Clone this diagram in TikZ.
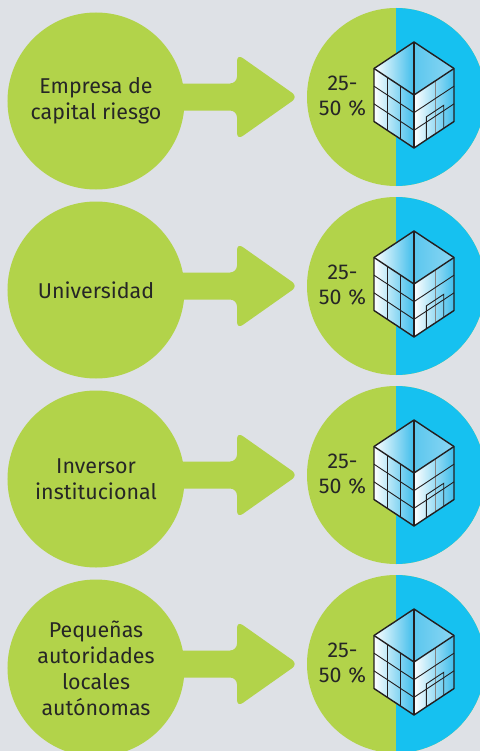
\documentclass[tikz,border=0pt]{standalone}
\usepackage{fontspec}
\setmainfont{Fira Sans}
\usetikzlibrary{calc}
\definecolor{bg}{HTML}{DEE1E6}
\definecolor{grn}{HTML}{B2D34A}
\definecolor{cyn}{HTML}{16C1F0}
\definecolor{txt}{HTML}{262626}
\definecolor{edge}{HTML}{231F20}
\definecolor{glass}{HTML}{3FBDEB}
\definecolor{glasslt}{HTML}{8AD6F3}
\tikzset{
  leftcirc/.style={circle, fill=grn, minimum size=177bp, inner sep=0pt, align=center, text=txt, font=\fontsize{21.5}{26}\selectfont},
  rightcirc/.style={circle, fill=grn, minimum size=178bp, inner sep=0pt},
  pct/.style={align=center, text=txt, font=\fontsize{21.5}{25}\selectfont, inner sep=0pt},
  blockarrow/.style={fill=grn, rounded corners=7bp},
  cubeedge/.style={draw=edge, line width=1.4bp, line join=round},
  cubegrid/.style={draw=edge, line width=0.9bp},
  cubegray/.style={draw=edge!55, line width=1.3bp},
}
\begin{document}
\begin{tikzpicture}[x=1bp,y=-1bp]
\fill[bg] (0,0) rectangle (480,751);
\useasboundingbox (0,0) rectangle (480,751);
\clip (0,0) rectangle (480,751);
\foreach \i/\lbl in {0/{Empresa de\\capital riesgo}, 1/{Universidad}, 2/{Inversor\\institucional}, 3/{Pequeñas\\autoridades\\locales\\autónomas}} {
  \pgfmathsetmacro{\yc}{97+189*\i}
  % right circle (green / blue halves)
  \node[rightcirc] (R\i) at (396,\yc) {};
  \begin{scope}
    \clip (396,\yc-100) rectangle (500,\yc+100);
    \fill[cyn] (R\i.center) circle (89bp);
  \end{scope}
  % block arrow from left circle to right circle
  \begin{scope}[shift={(R\i.center)}]
    \fill[blockarrow] (-226,-13.5) -- (-159,-13.5) -- (-159,-43) -- (-98,0)
      -- (-159,43) -- (-159,13.5) -- (-226,13.5) -- cycle;
  \end{scope}
  % left circle with label
  \node[leftcirc] (L\i) at (96,\yc+4) {\lbl};
  % percentage
  \node[pct] (P\i) at (342.5,\yc-1) {25-\\50\hspace{0.32em}\%};
  % building cube
  \begin{scope}[shift={(414,\yc-2)}]
    \coordinate (T) at (0,-53);
    \coordinate (UL) at (-40,-26.5);
    \coordinate (UR) at (40,-26.5);
    \coordinate (C) at (0,0);
    \coordinate (BL) at (-40,26.5);
    \coordinate (BR) at (40,26.5);
    \coordinate (B) at (0,53);
    \shade[left color=white, right color=glass] (UL) -- (C) -- (B) -- (BL) -- cycle;
    \shade[left color=white, right color=glass] (C) -- (UR) -- (BR) -- (B) -- cycle;
    \shade[left color=white, right color=glass] (T) -- (UL) -- (C) -- cycle;
    \shade[left color=glass!85, right color=glasslt] (T) -- (UR) -- (C) -- cycle;
    % left face grid
    \draw[cubegrid] (-26.67,-17.67) -- (-26.67,35.33);
    \draw[cubegrid] (-13.33,-8.83) -- (-13.33,44.17);
    \draw[cubegrid] (-40,-8.83) -- (0,17.67);
    \draw[cubegrid] (-40,8.83) -- (0,35.33);
    % right face grid
    \draw[cubegray] (21.7,-14.38) -- (21.7,38.62);
    \draw[cubegrid] (0,17.67) -- (40,-8.83);
    \draw[cubegrid] (0,35.33) -- (40,8.83);
    \draw[cubegrid] (12.3,44.85) -- (12.3,21.85) -- (29.7,10.32) -- (29.7,33.32);
    % outline
    \draw[cubeedge] (T) -- (UR) -- (BR) -- (B) -- (BL) -- (UL) -- cycle;
    \draw[cubeedge] (UL) -- (C) -- (UR);
    \draw[cubeedge] (T) -- (B);
  \end{scope}
}
\end{tikzpicture}
\end{document}
